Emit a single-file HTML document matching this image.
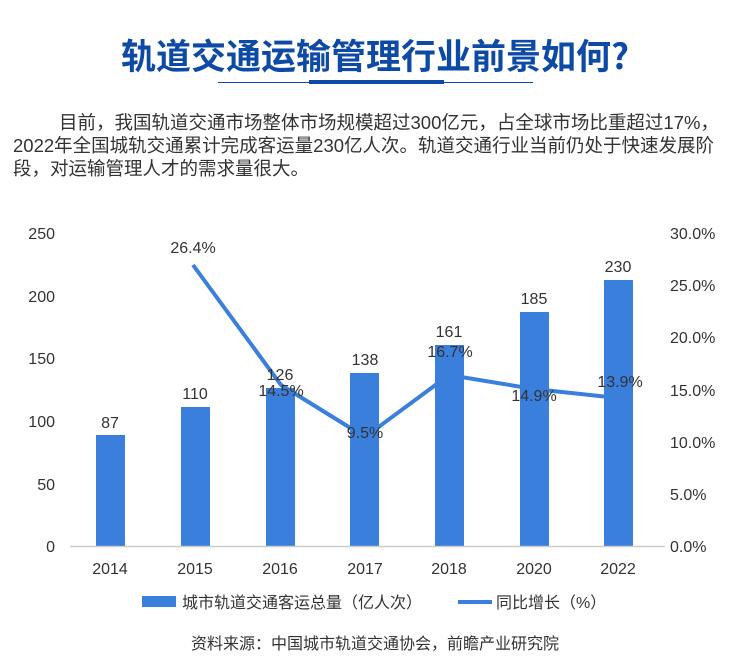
<!DOCTYPE html>
<html><head><meta charset="utf-8"><style>
body{margin:0;width:750px;height:669px;background:#fff;font-family:"Liberation Sans","Noto Sans CJK SC",sans-serif;overflow:hidden;position:relative}
.t{position:absolute;left:0;width:750px;text-align:center;top:29px;font-size:35px;font-weight:bold;color:#0d4aa6;letter-spacing:0px;font-family:"Noto Sans CJK SC",sans-serif}
.p{position:absolute;left:13px;top:111px;width:740px;font-size:18.5px;line-height:23px;color:#333;white-space:nowrap;font-family:"Liberation Sans","Noto Sans CJK SC",sans-serif}
</style></head><body>
<div class="t">轨道交通运输管理行业前景如何?</div>
<div style="position:absolute;left:218px;top:82px;width:315px;height:1px;background:#0d4aa6"></div>
<div style="position:absolute;left:309px;top:80px;width:135px;height:4px;background:#0d4aa6"></div>
<div class="p"><span style="padding-left:46px"></span>目前，我国轨道交通市场整体市场规模超过300亿元，占全球市场比重超过17%，<br>2022年全国城轨交通累计完成客运量230亿人次。轨道交通行业当前仍处于快速发展阶<br>段，对运输管理人才的需求量很大。</div>
<svg width="750" height="669" style="position:absolute;left:0;top:0" font-family="Liberation Sans, Noto Sans CJK SC, sans-serif" font-size="16" fill="#333">
<g text-anchor="end">
<text x="55" y="239">250</text><text x="55" y="302">200</text><text x="55" y="364">150</text><text x="55" y="427">100</text><text x="55" y="490">50</text><text x="55" y="552">0</text>
</g>
<g text-anchor="start">
<text x="670" y="239">30.0%</text><text x="670" y="291">25.0%</text><text x="670" y="343">20.0%</text><text x="670" y="396">15.0%</text><text x="670" y="448">10.0%</text><text x="670" y="500">5.0%</text><text x="670" y="552">0.0%</text>
</g>
<g fill="#3a7fdc">
<rect x="96" y="435" width="29" height="111"/>
<rect x="181" y="407" width="29" height="139"/>
<rect x="266" y="388" width="29" height="158"/>
<rect x="350" y="373" width="29" height="173"/>
<rect x="435" y="345" width="29" height="201"/>
<rect x="520" y="312" width="29" height="234"/>
<rect x="604" y="280" width="29" height="266"/>
</g>
<line x1="70" y1="546.5" x2="665" y2="546.5" stroke="#ccc" stroke-width="1.5"/>
<polyline points="193,265 281,385 365,437 449,375 534,389 618,398" fill="none" stroke="#3a7fdc" stroke-width="4" stroke-linejoin="round"/>
<g text-anchor="middle">
<text x="110" y="428">87</text><text x="195" y="399">110</text><text x="280" y="380">126</text><text x="365" y="365">138</text><text x="449" y="337">161</text><text x="534" y="304">185</text><text x="618" y="272">230</text>
<text x="193" y="253">26.4%</text><text x="281" y="396">14.5%</text><text x="365" y="438">9.5%</text><text x="450" y="357">16.7%</text><text x="534" y="401">14.9%</text><text x="620" y="387">13.9%</text>
<text x="110" y="574">2014</text><text x="195" y="574">2015</text><text x="280" y="574">2016</text><text x="365" y="574">2017</text><text x="449" y="574">2018</text><text x="534" y="574">2020</text><text x="618" y="574">2022</text>
</g>
<rect x="142" y="596" width="34" height="11" fill="#3a7fdc"/>
<text x="182" y="608">城市轨道交通客运总量（亿人次）</text>
<rect x="458" y="600" width="34" height="4" fill="#3a7fdc"/>
<text x="496" y="608">同比增长（%）</text>
<text x="375" y="649" text-anchor="middle">资料来源：中国城市轨道交通协会，前瞻产业研究院</text>
</svg>
</body></html>
